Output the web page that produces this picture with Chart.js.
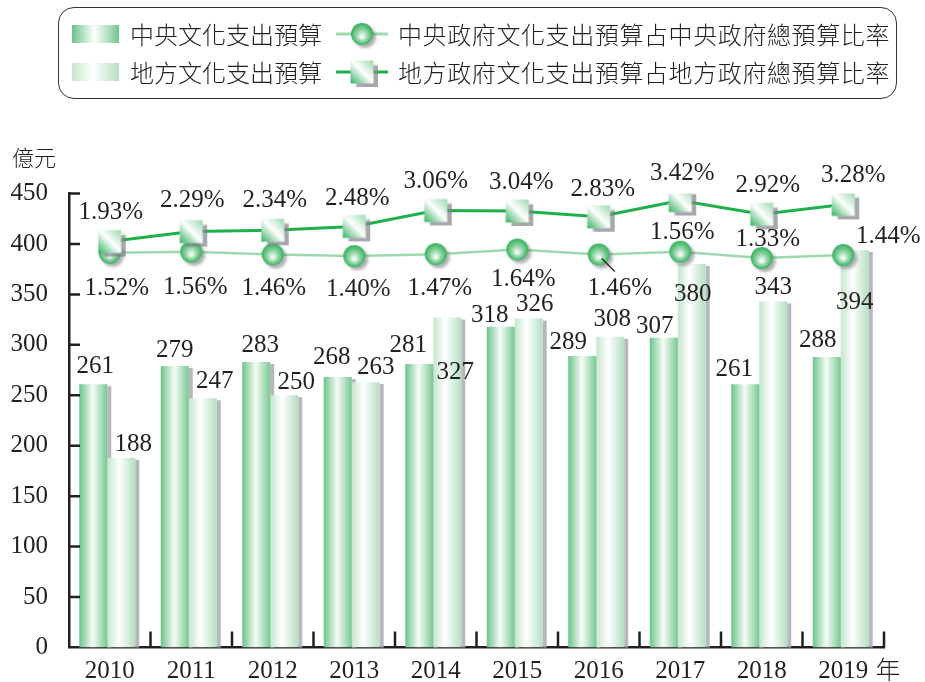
<!DOCTYPE html>
<html>
<head>
<meta charset="utf-8">
<script src="https://cdn.jsdelivr.net/npm/chart.js@4.4.0/dist/chart.umd.min.js"></script>
<style>
body { margin: 0; background: #fff; }
#wrap { position: relative; width: 925px; height: 682px; }
#box { position: absolute; left: 58px; top: 7px; width: 839px; height: 92px; border: 1.5px solid #333; border-radius: 16px; box-sizing: border-box; }
.sw { position: absolute; width: 47px; height: 18px; }
.tx { position: absolute; font-family: "Noto Sans CJK TC"; font-weight: 300; font-size: 24px; line-height: 24px; color: #231f20; white-space: nowrap; transform: translateY(-50%); }
.mk { position: absolute; }
canvas#graph { position: absolute; left: 0; top: 0; }
</style>
</head>
<body>
<div id="wrap">
  <canvas id="graph" width="925" height="682"></canvas>
  <div id="box"></div>
  <div class="sw" style="left:72px;top:25px;background:linear-gradient(90deg,#6cc38a 0%,#ffffff 48%,#72c58e 100%)"></div>
  <div class="tx" style="left:130px;top:34px">中央文化支出預算</div>
  <div class="sw" style="left:72px;top:63px;background:linear-gradient(90deg,#c4e6cd 0%,#ffffff 45%,#b7dfc3 100%)"></div>
  <div class="tx" style="left:130px;top:72px">地方文化支出預算</div>
  <canvas class="mk" id="mk1" width="56" height="34" style="left:334px;top:17px"></canvas>
  <div class="tx" style="left:398px;top:34px;letter-spacing:0.6px">中央政府文化支出預算占中央政府總預算比率</div>
  <canvas class="mk" id="mk2" width="56" height="34" style="left:334px;top:55px"></canvas>
  <div class="tx" style="left:398px;top:72px;letter-spacing:0.6px">地方政府文化支出預算占地方政府總預算比率</div>
</div>
<script>
// data
var years = ['2010', '2011', '2012', '2013', '2014', '2015', '2016', '2017', '2018', '2019']
var centralBudget = [261, 279, 283, 268, 281, 318, 289, 307, 261, 288]
var localBudget = [188, 247, 250, 263, 327, 326, 308, 380, 343, 394]
var centralRatio = [1.52, 1.56, 1.46, 1.40, 1.47, 1.64, 1.46, 1.56, 1.33, 1.44]
var localRatio = [1.93, 2.29, 2.34, 2.48, 3.06, 3.04, 2.83, 3.42, 2.92, 3.28]
var yTicks = [0, 50, 100, 150, 200, 250, 300, 350, 400, 450]

// label placement (dx, dy from the mark)
var centralBarLabelPos = [[2,-20],[0,-18],[4,-18],[-6,-22],[-11,-21],[-11,-13],[-14,-15],[-9,-13],[-11,-17],[-9,-18]]
var localBarLabelPos = [[12,-15],[12,-19],[12,-15],[10,-17],[8,53],[6,-16],[2,-19],[1,28],[0,-16],[0,51]]
var localRatioLabelPos = [[1,-31],[1,-33],[2,-32],[3,-30],[0,-31],[4,-30],[4,-29],[2,-29],[6,-31],[10,-31]]
var centralRatioLabelPos = [[7,34],[4,34],[1,32],[4,31],[4,32],[6,28],[21,32],[2,-21],[6,-21],[45,-21]]

var BAR_SHIFT = -2.5
var numFont = '25px "Liberation Serif"'
var ink = '#231f20'

function makeCircle() {
  var c = document.createElement('canvas')
  c.width = 34; c.height = 34
  var g = c.getContext('2d')
  g.shadowColor = 'rgba(110,110,120,0.55)'
  g.shadowOffsetX = 3; g.shadowOffsetY = 3; g.shadowBlur = 3
  var rg = g.createRadialGradient(17, 20, 1, 17, 17, 11.5)
  rg.addColorStop(0, '#f2fbf4')
  rg.addColorStop(0.45, '#8fd4a2')
  rg.addColorStop(1, '#2aae55')
  g.fillStyle = rg
  g.beginPath(); g.arc(17, 17, 11, 0, Math.PI * 2); g.fill()
  return c
}

function makeSquare() {
  var c = document.createElement('canvas')
  c.width = 34; c.height = 34
  var g = c.getContext('2d')
  g.shadowColor = 'rgba(130,130,140,0.7)'
  g.shadowOffsetX = 4; g.shadowOffsetY = 3; g.shadowBlur = 1
  var lg = g.createLinearGradient(5.5, 28.5, 28.5, 5.5)
  lg.addColorStop(0, '#33b15e')
  lg.addColorStop(0.52, '#ffffff')
  lg.addColorStop(1, '#9ad8ab')
  g.fillStyle = lg
  g.fillRect(5.5, 5.5, 23, 23)
  return c
}

var circleImg = makeCircle()
var squareImg = makeSquare()

function legendMarker(id, color, width, img) {
  var g = document.getElementById(id).getContext('2d')
  g.strokeStyle = color; g.lineWidth = width
  g.beginPath(); g.moveTo(2, 17); g.lineTo(54, 17); g.stroke()
  g.drawImage(img, 11, 0)
}
legendMarker('mk1', '#9ed9ae', 3, circleImg)
legendMarker('mk2', '#1fb04c', 3, squareImg)

/*--- bars: shadow, gradient, shift ---*/
var barStyle = {
  id: 'barStyle',
  beforeDatasetsDraw: function (chart) {
    var ctx = chart.ctx
    ctx.save()
    ctx.translate(BAR_SHIFT, 0)
    ctx.fillStyle = 'rgba(175,175,182,0.9)'
    chart.getSortedVisibleDatasetMetas().forEach(function (meta) {
      if (meta.type !== 'bar') return
      meta.data.forEach(function (el) {
        ctx.fillRect(el.x + el.width / 2, el.y + 2, 4, el.base - el.y - 2)
      })
    })
    ctx.restore()
  },
  beforeDatasetDraw: function (chart, args) {
    if (args.meta.type !== 'bar') return
    var ctx = chart.ctx
    var stops = chart.data.datasets[args.index].gradientStops
    ctx.save()
    ctx.translate(BAR_SHIFT, 0)
    args.meta.data.forEach(function (el) {
      var g = ctx.createLinearGradient(el.x - el.width / 2, 0, el.x + el.width / 2, 0)
      stops.forEach(function (s) { g.addColorStop(s[0], s[1]) })
      el.options = Object.assign({}, el.options, { backgroundColor: g })
    })
  },
  afterDatasetDraw: function (chart, args) {
    if (args.meta.type === 'bar') chart.ctx.restore()
  }
}

/*--- axes ticks pointing inward + unit labels ---*/
var axisDeco = {
  id: 'axisDeco',
  afterDatasetsDraw: function (chart) {
    var ctx = chart.ctx, a = chart.chartArea, x = chart.scales.x, y = chart.scales.y
    ctx.save()
    ctx.strokeStyle = ink; ctx.lineWidth = 2.5
    ctx.beginPath()
    yTicks.forEach(function (v) {
      if (v === 0) return
      var py = y.getPixelForValue(v)
      ctx.moveTo(a.left, py); ctx.lineTo(a.left + 11, py)
    })
    for (var i = 1; i <= years.length; i++) {
      var px = x.getPixelForValue(i - 0.5)
      ctx.moveTo(px, a.bottom); ctx.lineTo(px, a.bottom - 16)
    }
    ctx.stroke()
    ctx.fillStyle = ink
    ctx.font = '300 22px "Noto Sans CJK TC"'
    ctx.textAlign = 'left'; ctx.textBaseline = 'middle'
    ctx.fillText('億元', 12, 158)
    ctx.font = '300 25px "Noto Sans CJK TC"'
    ctx.textAlign = 'center'
    ctx.fillText('年', 888, 669)
    ctx.restore()
  }
}

/*--- value labels ---*/
var valueLabels = {
  id: 'valueLabels',
  afterDraw: function (chart) {
    var ctx = chart.ctx
    ctx.save()
    ctx.font = numFont
    ctx.fillStyle = ink
    ctx.textAlign = 'center'
    ctx.textBaseline = 'alphabetic'
    chart.data.datasets.forEach(function (ds, di) {
      var meta = chart.getDatasetMeta(di)
      var shift = meta.type === 'bar' ? BAR_SHIFT : 0
      meta.data.forEach(function (el, i) {
        var p = ds.labelPos[i]
        var txt = ds.pct ? ds.data[i].toFixed(2) + '%' : String(ds.data[i])
        ctx.fillText(txt, el.x + shift + p[0], el.y + p[1] + 8.5)
      })
      if (ds.leader) {
        var el = meta.data[ds.leader.index], l = ds.leader.line
        ctx.strokeStyle = ink; ctx.lineWidth = 1.3
        ctx.beginPath()
        ctx.moveTo(el.x + l[0], el.y + l[1]); ctx.lineTo(el.x + l[2], el.y + l[3])
        ctx.stroke()
      }
    })
    ctx.restore()
  }
}

var ctx_graph = document.getElementById('graph').getContext('2d')

var data_graph = {
  labels: years,
  datasets: [{
    type: 'line',
    label: '地方政府文化支出預算占地方政府總預算比率',
    data: localRatio,
    yAxisID: 'y2',
    order: 1,
    borderColor: '#1fb04c',
    borderWidth: 3,
    pointStyle: squareImg,
    pointRadius: 12,
    pct: true,
    labelPos: localRatioLabelPos
  }, {
    type: 'line',
    label: '中央政府文化支出預算占中央政府總預算比率',
    data: centralRatio,
    yAxisID: 'y2',
    order: 2,
    borderColor: '#9ed9ae',
    borderWidth: 2.5,
    pointStyle: circleImg,
    pointRadius: 12,
    pct: true,
    labelPos: centralRatioLabelPos,
    leader: { index: 6, line: [3, 4, 16, 17] }
  }, {
    type: 'bar',
    label: '中央文化支出預算',
    data: centralBudget,
    order: 3,
    backgroundColor: '#7cc895',
    gradientStops: [[0, '#6cc38a'], [0.48, '#f6fcf7'], [1, '#76c892']],
    labelPos: centralBarLabelPos
  }, {
    type: 'bar',
    label: '地方文化支出預算',
    data: localBudget,
    order: 4,
    backgroundColor: '#cfe9d6',
    gradientStops: [[0, '#c4e6cd'], [0.42, '#ffffff'], [1, '#b5dec1']],
    labelPos: localBarLabelPos
  }]
}

var config_graph = {
  type: 'bar',
  data: data_graph,
  options: {
    responsive: false,
    animation: false,
    layout: { padding: { left: 0, top: 193.5, right: 41, bottom: 0.5 } },
    datasets: { bar: { categoryPercentage: 0.687, barPercentage: 1, borderWidth: 0 } },
    plugins: { legend: { display: false }, tooltip: { enabled: false } },
    scales: {
      x: {
        offset: true,
        grid: { display: false },
        border: { display: true, color: ink, width: 2.5 },
        ticks: { color: ink, font: { family: 'Liberation Serif', size: 25 }, padding: 1 },
        afterFit: function (s) { s.height = 34 }
      },
      y: {
        min: 0,
        max: 450,
        afterBuildTicks: function (s) { s.ticks = yTicks.map(function (v) { return { value: v } }) },
        grid: { display: false },
        border: { display: true, color: ink, width: 2.5 },
        ticks: { color: ink, font: { family: 'Liberation Serif', size: 25 }, padding: 13 },
        afterFit: function (s) { s.width = 69 }
      },
      y2: {
        display: false,
        position: 'right',
        min: -12.83,
        max: 3.676
      }
    }
  },
  plugins: [barStyle, axisDeco, valueLabels]
}
var graph = new Chart(ctx_graph, config_graph)
</script>
</body>
</html>
